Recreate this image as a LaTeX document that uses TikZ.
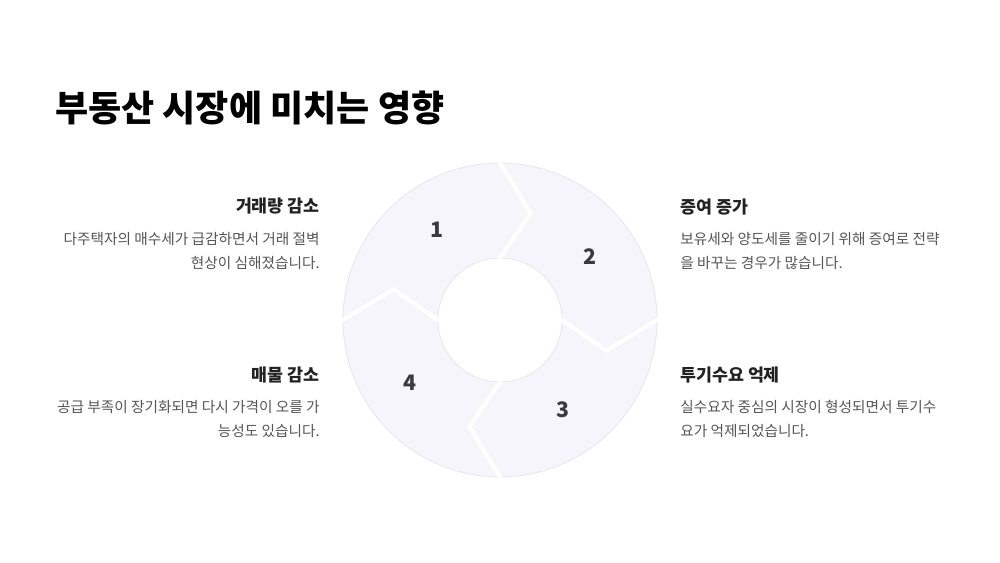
\documentclass[tikz,border=0pt]{standalone}
\usepackage{fontspec}
\setmainfont{Noto Sans CJK KR}
\usetikzlibrary{calc}
\definecolor{ringfill}{HTML}{F5F5FB}
\definecolor{ringline}{HTML}{E6E6F0}
\definecolor{numcol}{HTML}{3A3A40}
\definecolor{headcol}{HTML}{222222}
\definecolor{bodycol}{HTML}{555555}
\begin{document}
\begin{tikzpicture}[x=0.75pt, y=0.75pt,
    head/.style={font=\fontsize{13}{15}\selectfont\bfseries, text=headcol, inner sep=0pt},
    body/.style={font=\fontsize{11}{18}\selectfont, text=bodycol, inner sep=0pt},
    num/.style={font=\fontsize{16}{18}\selectfont\bfseries, text=numcol}]
    \useasboundingbox (0,0) rectangle (1000,562);
    \coordinate (c) at (500,242);

    % 제목
    \node[anchor=west, inner sep=0pt, font=\fontsize{27}{31}\selectfont\bfseries, text=black] (title) at (55,454) {부동산 시장에 미치는 영향};

    % 고리
    \fill[ringfill, draw=ringline, line width=0.6pt, even odd rule] (c) circle (157) (c) circle (62);

    % 구분선 (화살표 모양)
    \foreach \a in {90,0,-90,180} {
        \coordinate (p) at ($(c)+(\a:157)$);
        \coordinate (t) at ($(c)+(\a-16:111)$);
        \coordinate (q) at ($(c)+(\a:62)$);
        \draw[white, line width=3pt] ($(t)!1.1!(p)$) -- (t) -- ($(t)!1.1!(q)$);
    }

    % 번호
    \node[num] (n1) at ($(c)+(125:110)$) {1};
    \node[num] (n2) at ($(c)+(35:110)$) {2};
    \node[num] (n3) at ($(c)+(-55:110)$) {3};
    \node[num] (n4) at ($(c)+(-145:110)$) {4};

    % 왼쪽 위
    \node[head, anchor=east] (h1) at (320,356) {거래량 감소};
    \node[body, anchor=north east, align=right] (b1) at (320,330) {다주택자의 매수세가 급감하면서 거래 절벽\\현상이 심해졌습니다.};
    % 오른쪽 위
    \node[head, anchor=west] (h2) at (680,355) {증여 증가};
    \node[body, anchor=north west, align=left] (b2) at (680,330) {보유세와 양도세를 줄이기 위해 증여로 전략\\을 바꾸는 경우가 많습니다.};
    % 오른쪽 아래
    \node[head, anchor=west] (h3) at (680,187) {투기수요 억제};
    \node[body, anchor=north west, align=left] (b3) at (680,162) {실수요자 중심의 시장이 형성되면서 투기수\\요가 억제되었습니다.};
    % 왼쪽 아래
    \node[head, anchor=east] (h4) at (320,187) {매물 감소};
    \node[body, anchor=north east, align=right] (b4) at (320,162) {공급 부족이 장기화되면 다시 가격이 오를 가\\능성도 있습니다.};
\end{tikzpicture}
\end{document}
